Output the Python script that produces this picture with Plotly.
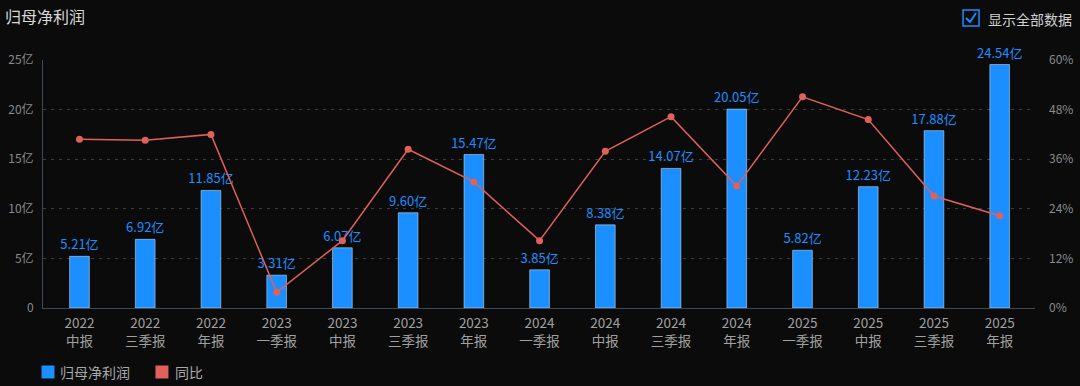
import plotly.graph_objects as go

categories = ["2022<br>中报", "2022<br>三季报", "2022<br>年报", "2023<br>一季报", "2023<br>中报",
              "2023<br>三季报", "2023<br>年报", "2024<br>一季报", "2024<br>中报", "2024<br>三季报",
              "2024<br>年报", "2025<br>一季报", "2025<br>中报", "2025<br>三季报", "2025<br>年报"]
profit = [5.21, 6.92, 11.85, 3.31, 6.07, 9.60, 15.47, 3.85, 8.38, 14.07, 20.05, 5.82, 12.23, 17.88, 24.54]
yoy = [40.8, 40.6, 42.0, 3.8, 16.3, 38.4, 30.5, 16.3, 37.9, 46.3, 29.5, 51.1, 45.6, 27.1, 22.3]
left_ticks = [0, 5, 10, 15, 20, 25]
left_labels = ["0", "5亿", "10亿", "15亿", "20亿", "25亿"]
right_ticks = [0, 12, 24, 36, 48, 60]
right_labels = ["0%", "12%", "24%", "36%", "48%", "60%"]
legend_names = ["归母净利润", "同比"]

FONT = "Noto Sans CJK SC"
BLUE = "#1b8fff"
RED = "#e0605c"
BG = "#0b0b0c"
GRID = "#3c3c3c"

W, H = 1080, 386
L, R, T, B = 42.5, 45, 60, 78
PW = W - L - R
PH = H - T - B

def px(x):
    return (x - L) / PW

def py(y):
    return (H - B - y) / PH

fig = go.Figure()
fig.add_trace(go.Bar(
    x=categories, y=profit, name=legend_names[0], marker_color=BLUE, width=0.3,
    text=[f"{v:.2f}亿" for v in profit], textposition="outside", constraintext="none",
    textfont=dict(color=BLUE, size=13, family=FONT), cliponaxis=False,
    showlegend=False, yaxis="y"))
fig.add_trace(go.Scatter(
    x=categories, y=yoy, name=legend_names[1], mode="lines+markers",
    line=dict(color=RED, width=1.5), marker=dict(color=RED, size=7),
    showlegend=False, yaxis="y2", cliponaxis=False))

fig.update_layout(
    width=W, height=H, margin=dict(l=L, r=R, t=T, b=B, autoexpand=False),
    paper_bgcolor=BG, plot_bgcolor=BG,
    font=dict(family=FONT, color="#9a9a9a", size=12),
    title=dict(text="归母净利润", x=5 / W, xanchor="left", xref="container",
               y=1 - 17 / H, yanchor="middle", yref="container",
               font=dict(size=16, color="#d8d8d8", family=FONT)),
    xaxis=dict(type="category", range=[-0.555, len(categories) - 1 + 0.537],
               showline=True, linecolor="#3d4a56", linewidth=1, showgrid=False,
               ticks="", ticklabelstandoff=3,
               tickfont=dict(size=13.5, color="#a0a0a0"), automargin=False),
    yaxis=dict(range=[0, 25], tickvals=left_ticks, ticktext=left_labels,
               showline=True, linecolor="#3d4a56", linewidth=1,
               showgrid=True, gridcolor=GRID, griddash="3px,5px", gridwidth=1,
               zeroline=False, ticks="", ticklabelstandoff=6, automargin=False,
               tickfont=dict(size=12, color="#8a8a8a")),
    yaxis2=dict(range=[0, 60], tickvals=right_ticks, ticktext=right_labels,
                overlaying="y", side="right", showgrid=False, showline=False,
                zeroline=False, ticks="", ticklabelstandoff=13, automargin=False,
                tickfont=dict(size=12, color="#8a8a8a")),
    showlegend=False,
)

# bottom legend (square swatches + labels)
for (x0, tx), name, col in zip([(41, 58), (155, 173)], legend_names, [BLUE, RED]):
    fig.add_shape(type="rect", xref="paper", yref="paper",
                  x0=px(x0), x1=px(x0 + 13), y0=py(378.5), y1=py(365.5),
                  line=dict(width=0), fillcolor=col)
    fig.add_annotation(text=name, xref="paper", yref="paper", x=px(tx), y=py(372),
                       xanchor="left", yanchor="middle", showarrow=False,
                       font=dict(size=14, color="#a8a8a8", family=FONT))

# checkbox "显示全部数据"
fig.add_shape(type="rect", xref="paper", yref="paper",
              x0=px(963), x1=px(979), y0=py(26), y1=py(10),
              line=dict(color="#1b8fff", width=1.5), fillcolor="rgba(0,0,0,0)")
fig.add_shape(type="path", xref="paper", yref="paper",
              path=f"M {px(966)} {py(18)} L {px(970)} {py(22)} L {px(976)} {py(13)}",
              line=dict(color="#1b8fff", width=1.8))
fig.add_annotation(text="显示全部数据", xref="paper", yref="paper",
                   x=px(986), y=py(19), xanchor="left", yanchor="middle",
                   showarrow=False, font=dict(size=14, color="#d0d0d0", family=FONT))

fig.write_html("out.html", config={"displayModeBar": False},
               post_script="document.body.style.margin='0';document.body.style.background='#0b0b0c';")
